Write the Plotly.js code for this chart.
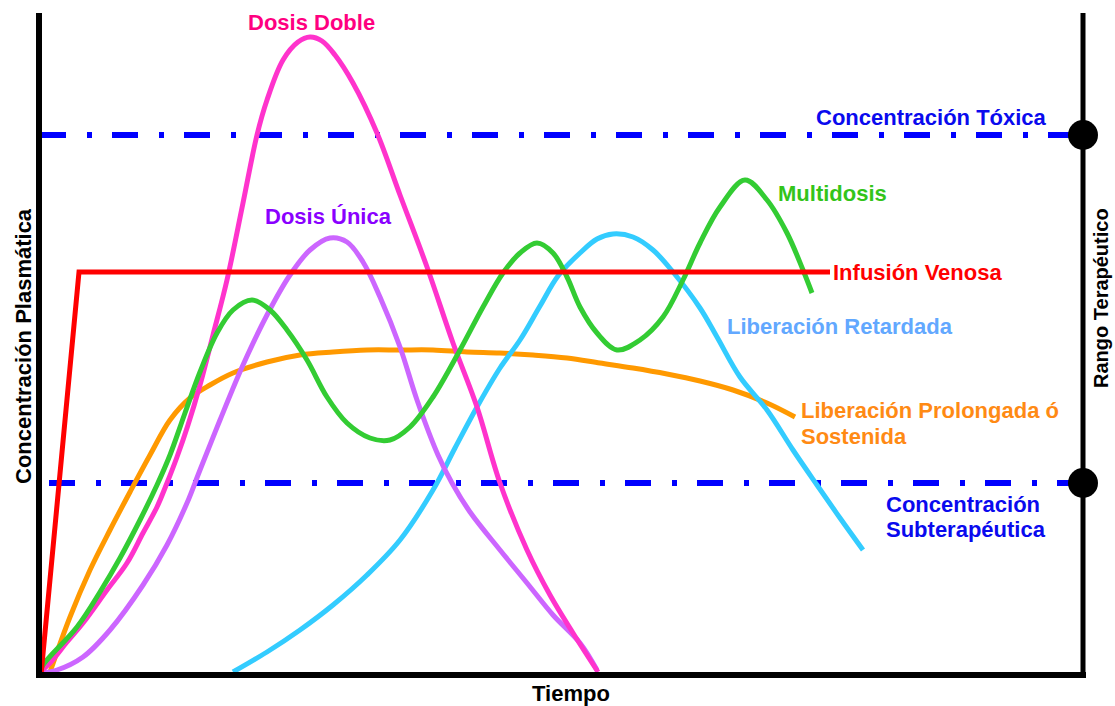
<!DOCTYPE html>
<html>
<head>
<meta charset="utf-8">
<script src="https://cdn.plot.ly/plotly-3.0.1.min.js"></script>
<style>html,body{margin:0;padding:0;background:#fff;}#chart{width:1115px;height:706px;}</style>
</head>
<body>
<div id="chart"></div>
<script>
// Time / concentration values (arbitrary units)
const dobleT = [2,12,29,45,69,89,105,119,129,139,150,162,175,189,205,219,229,245,260,272,284,297,315,339,362,389,415,439,462,489,512,535,560];
const dobleC = [3,12,33,52,85,112,142,168,192,218,250,290,340,395,472,540,575,615,633,638,634,620,592,542,480,408,332,268,192,125,80,42,3];

const unicaT = [2,19,45,72,105,129,149,162,182,205,229,252,272,292,309,325,342,362,379,400,414,432,462,489,515,542,559];
const unicaC = [2,5,18,45,90,130,172,205,255,310,360,400,425,437,433,413,378,328,275,220,192,163,125,92,60,32,5];

const multiT = [2,5,39,62,82,102,119,132,147,162,179,195,214,232,249,269,289,309,332,352,372,395,422,445,465,482,499,515,529,542,559,579,602,625,645,662,682,707,729,749,765,774];
const multiC = [3,10,48,83,117,155,190,220,262,303,342,365,375,365,345,315,278,252,237,235,248,278,325,368,402,422,432,422,398,368,342,325,335,358,395,432,468,495,475,442,405,382];

const infusionT = [3,41,792];
const infusionC = [0,403,403];

const prolongT = [12,32,52,72,92,112,132,152,172,195,229,262,295,329,362,395,429,462,495,529,562,595,629,662,695,729,757];
const prolongC = [3,58,105,145,183,220,255,277,290,302,313,320,323,325,325,325,323,322,320,317,312,307,301,294,285,272,258];

const retardT = [195,229,262,295,329,362,395,417,439,462,482,502,520,542,559,575,595,615,635,662,679,702,729,755,779,802,825];
const retardC = [3,23,45,70,100,135,185,227,268,307,335,369,399,422,436,441,438,425,403,367,338,298,265,225,190,157,125];

const toxicLevel = 540;
const subLevel = 192;
const tMax = 1045;
const cMax = 662;

const FONT = "Liberation Sans, Arial, sans-serif";

function curve(x, y, color) {
  return {x: x, y: y, type: 'scatter', mode: 'lines', hoverinfo: 'skip',
          line: {color: color, width: 5, shape: 'spline', smoothing: 1}, cliponaxis: false};
}
const dashPattern = "26px,21px,5px,20px";
const traces = [
  {x: [2, tMax], y: [toxicLevel, toxicLevel], type: 'scatter', mode: 'lines',
   line: {color: '#0000FF', width: 6, dash: dashPattern}, cliponaxis: false},
  {x: [11, tMax], y: [subLevel, subLevel], type: 'scatter', mode: 'lines',
   line: {color: '#0000FF', width: 6, dash: dashPattern}, cliponaxis: false},
  curve(prolongT, prolongC, '#FF9900'),
  curve(retardT, retardC, '#33CCFF'),
  curve(unicaT, unicaC, '#CC66FF'),
  curve(dobleT, dobleC, '#FF33CC'),
  curve(multiT, multiC, '#33CC33'),
  {x: infusionT, y: infusionC, type: 'scatter', mode: 'lines',
   line: {color: '#FF0000', width: 5}, cliponaxis: false},
  {x: [tMax, tMax], y: [toxicLevel, subLevel], type: 'scatter', mode: 'markers',
   marker: {color: '#000000', size: 30}, cliponaxis: false}
];

function lab(text, x, y, color, xanchor, extra, size) {
  return Object.assign({text: '<b>' + text + '</b>', x: x, y: y, xref: 'x', yref: 'y', showarrow: false,
    xanchor: xanchor || 'center', yanchor: 'middle', borderpad: 0,
    font: {family: FONT, size: size || 22, color: color}}, extra || {});
}

const annotations = [
  lab('Dosis Doble', 273, 653, '#FF0080'),
  lab('Dosis Única', 290, 459, '#8A00FF'),
  lab('Multidosis', 794, 482, '#33C41A'),
  lab('Infusión Venosa', 794, 403, '#FF0000', 'left'),
  lab('Liberación Retardada', 688, 349, '#62A8FF', 'left'),
  lab('Liberación Prolongada ó', 762, 265, '#FF8A14', 'left'),
  lab('Sostenida', 762, 239, '#FF8A14', 'left'),
  lab('Concentración Tóxica', 777, 558, '#0A0AEE', 'left'),
  lab('Concentración', 847, 171, '#0A0AEE', 'left'),
  lab('Subterapéutica', 847, 146, '#0A0AEE', 'left'),
  lab('Tiempo', 533 / tMax, -18 / cMax, '#000000', 'center', {xref: 'paper', yref: 'paper'}),
  lab('Concentración Plasmática', -15 / tMax, 329 / cMax, '#000000', 'center',
      {xref: 'paper', yref: 'paper', textangle: -90}),
  lab('Rango Terapéutico', 1063 / tMax, 377 / cMax, '#000000', 'center',
      {xref: 'paper', yref: 'paper', textangle: -90}, 20)
];

const shapes = [
  {type: 'line', xref: 'paper', yref: 'paper', x0: 1 / tMax, x1: 1 / tMax, y0: -3 / cMax, y1: 1, line: {color: '#000', width: 6}},
  {type: 'line', xref: 'paper', yref: 'paper', x0: -2 / tMax, x1: 1 + 3 / tMax, y0: 0, y1: 0, line: {color: '#000', width: 6}},
  {type: 'line', xref: 'paper', yref: 'paper', x0: 1, x1: 1, y0: 0, y1: 1, line: {color: '#000', width: 5}}
];

const layout = {
  width: 1115, height: 706,
  margin: {l: 38, r: 32, t: 13, b: 31, pad: 0},
  paper_bgcolor: '#FFFFFF', plot_bgcolor: '#FFFFFF',
  showlegend: false,
  xaxis: {range: [0, tMax], visible: false, fixedrange: true},
  yaxis: {range: [0, cMax], visible: false, fixedrange: true},
  annotations: annotations,
  shapes: shapes
};

Plotly.newPlot('chart', traces, layout, {staticPlot: true, displayModeBar: false});
</script>
</body>
</html>
